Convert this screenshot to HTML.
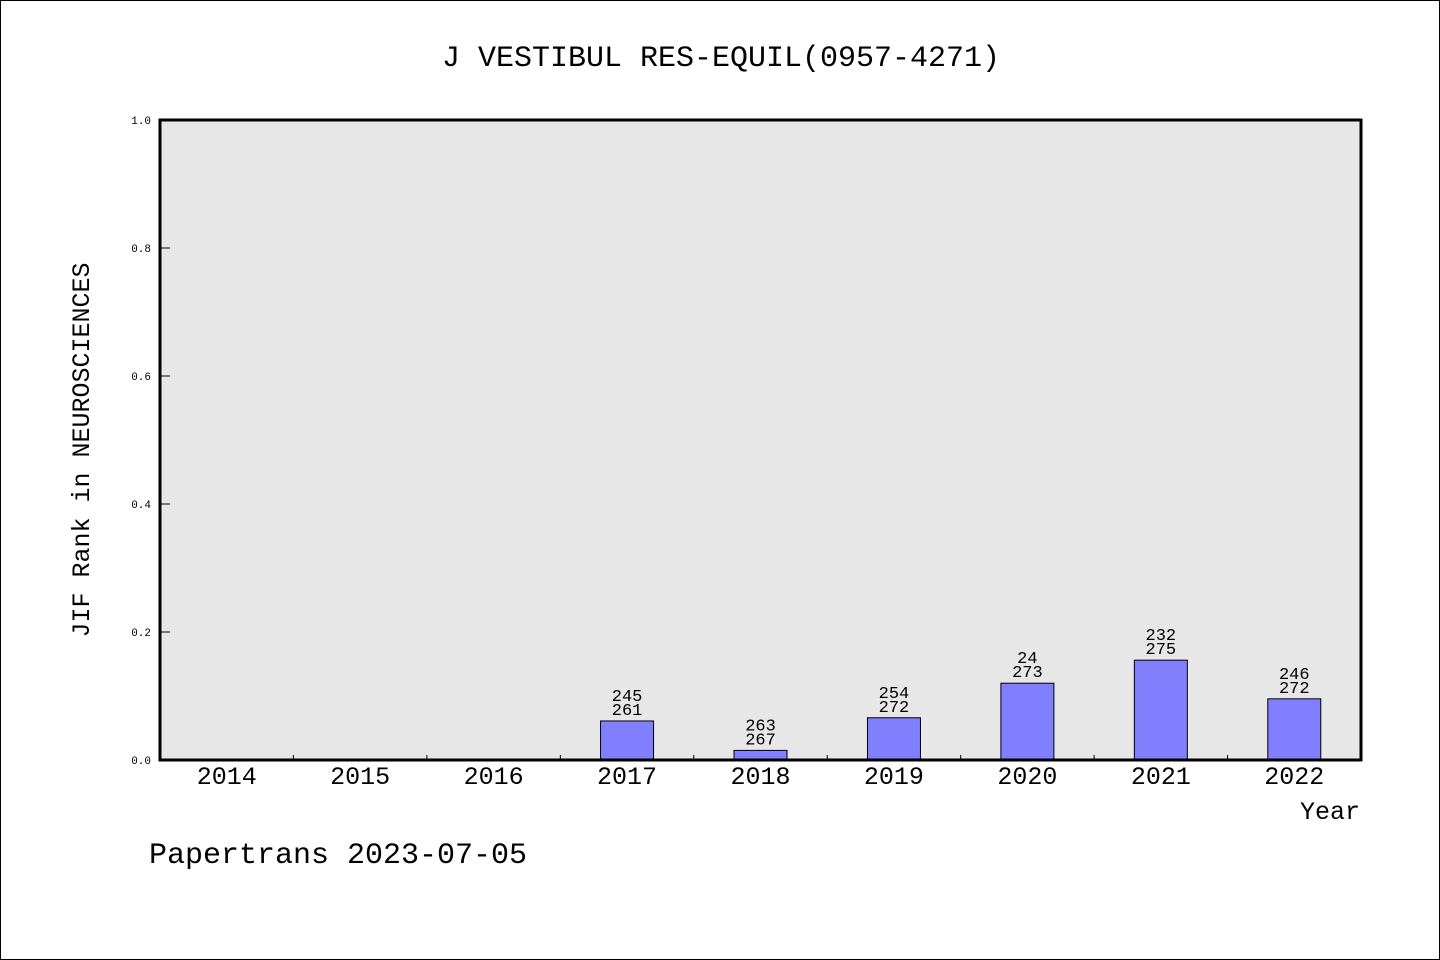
<!DOCTYPE html>
<html><head><meta charset="utf-8"><style>
body{margin:0;background:#fff}
svg{display:block}
text{font-family:"Liberation Mono","WenQuanYi Zen Hei",monospace;fill:#000}
</style></head><body>
<svg id="c" width="1440" height="960">
<rect x="0.5" y="0.5" width="1439" height="959" fill="#fff" stroke="#000"/>
<text x="721" y="66" font-size="30" text-anchor="middle">J VESTIBUL RES-EQUIL(0957-4271)</text>
<rect x="160" y="120" width="1201" height="640" fill="#e7e7e7"/>
<g id="g"></g>
<rect x="160" y="120" width="1201" height="640" fill="none" stroke="#000" stroke-width="3"/>
<text transform="translate(89,450) rotate(-90)" font-size="25" text-anchor="middle">JIF Rank in NEUROSCIENCES</text>
<text x="1360" y="819" font-size="25" text-anchor="end">Year</text>
<text x="149" y="863" font-size="30">Papertrans 2023-07-05</text>
</svg>
<script>
const years=["2014","2015","2016","2017","2018","2019","2020","2021","2022"];
const values=[0,0,0,0.061,0.015,0.066,0.12,0.156,0.0956];
const ranks=["","","","245","263","254","24","232","246"];
const totals=["","","","261","267","272","273","275","272"];
const yTicks=[0,0.2,0.4,0.6,0.8,1.0];
const X0=160,X1=1361,Y0=760,Y1=120;
const bw=(X1-X0)/years.length;
const xc=i=>X0+bw*(i+0.5);
const y=v=>Y0-(Y0-Y1)*v;
const g=document.getElementById('g');
const NS="http://www.w3.org/2000/svg";
function mk(t,a){const e=document.createElementNS(NS,t);for(const k in a)e.setAttribute(k,a[k]);g.appendChild(e);return e;}
yTicks.forEach(v=>{
 const l=mk('line',{x1:X0,x2:X0+10,y1:y(v),y2:y(v),stroke:'#000'});
 
 
 const t=mk('text',{x:151,y:y(v)+4,'font-size':11,'text-anchor':'end'});
 t.textContent=v.toFixed(1);
 
 
});
years.forEach((yr,i)=>{
 if(i>0){const l=mk('line',{x1:X0+bw*i,x2:X0+bw*i,y1:Y0,y2:Y0-5,stroke:'#000'});
 
 }
 const t=mk('text',{x:xc(i),y:784,'font-size':25,'text-anchor':'middle'});
 t.textContent=yr;
 
 
 if(values[i]>0){
  const b=mk('rect',{x:xc(i)-26.5,y:y(values[i]),width:53,height:Y0-y(values[i]),fill:'#8080ff',stroke:'#000'});
  
  
  const t1=mk('text',{x:xc(i),y:y(values[i])-20,'font-size':17,'text-anchor':'middle'});
  t1.textContent=ranks[i];
  
  
  const t2=mk('text',{x:xc(i),y:y(values[i])-6,'font-size':17,'text-anchor':'middle'});
  t2.textContent=totals[i];
  
  
 }
});
</script>
</body></html>
